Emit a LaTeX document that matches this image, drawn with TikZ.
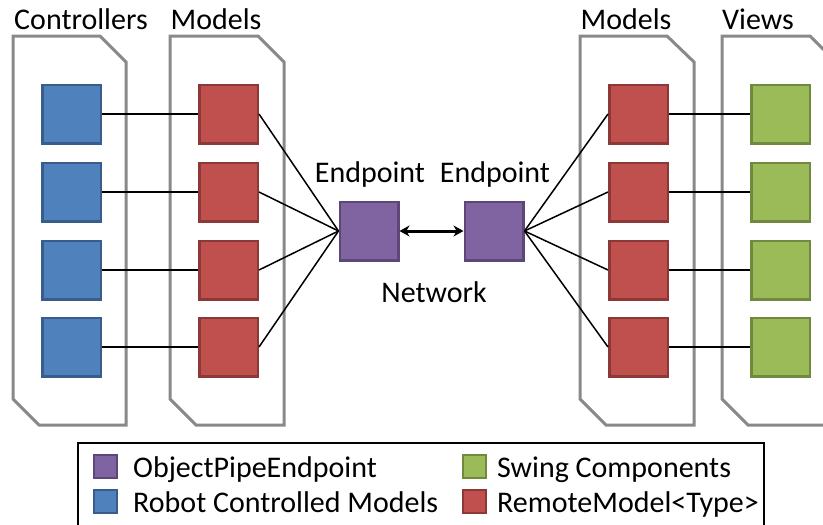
\documentclass[tikz,border=0pt]{standalone}
\usepackage{fontspec}
\setmainfont{Carlito}
\usetikzlibrary{arrows.meta}
\definecolor{bluef}{HTML}{4F81BD}\definecolor{bluel}{HTML}{385D8A}
\definecolor{redf}{HTML}{C0504D}\definecolor{redl}{HTML}{8C3836}
\definecolor{greenf}{HTML}{9BBB59}\definecolor{greenl}{HTML}{71893F}
\definecolor{purf}{HTML}{8064A2}\definecolor{purl}{HTML}{5C4776}
\definecolor{contl}{HTML}{898989}
\begin{document}
\begin{tikzpicture}[x=1pt,y=-1pt,
  txt/.style={font=\fontsize{30pt}{36pt}\selectfont, inner sep=0pt},
  sq/.style={rectangle, inner sep=0pt, minimum size=58.5pt, line width=2.5pt},
  bsq/.style={sq, fill=bluef, draw=bluel},
  rsq/.style={sq, fill=redf, draw=redl},
  gsq/.style={sq, fill=greenf, draw=greenl},
  psq/.style={sq, fill=purf, draw=purl},
  lsq/.style={rectangle, inner sep=0pt, minimum size=23pt, line width=2pt},
  container/.style={draw=contl, line width=3pt, line join=miter},
  link/.style={draw=black, line width=1.5pt},
  netarrow/.style={draw=black, line width=3pt, {Stealth[length=10pt,width=11pt]}-{Stealth[length=10pt,width=11pt]}}
]
\useasboundingbox (0,0) rectangle (823,525);
\clip (0,0) rectangle (823,525);
\fill[white] (0,0) rectangle (823,525);

% containers
\draw[container] (13,36) -- (100,36) -- (126,62) -- (126,425) -- (39,425) -- (13,399) -- cycle;
\draw[container] (170,36) -- (258,36) -- (284,62) -- (284,425) -- (196,425) -- (170,399) -- cycle;
\draw[container] (580,36) -- (667,36) -- (694,62) -- (694,425) -- (606,425) -- (580,399) -- cycle;
\draw[container] (722,36) -- (810,36) -- (836,62) -- (836,425) -- (748,425) -- (722,399) -- cycle;

% headers
\node[txt, anchor=base] (hctrl) at (81,29) {Controllers};
\node[txt, anchor=base] (hml) at (216,29) {Models};
\node[txt, anchor=base] (hmr) at (626,29) {Models};
\node[txt, anchor=base] (hviews) at (758,29) {Views};

% squares
\foreach \i/\y in {1/114,2/192,3/270,4/347}{
  \node[bsq] (b\i) at (71.5,\y) {};
  \node[rsq] (rl\i) at (228.5,\y) {};
  \node[rsq] (rr\i) at (638.5,\y) {};
  \node[gsq] (g\i) at (780.5,\y) {};
}
\node[psq] (pl) at (369,231) {};
\node[psq] (pr) at (494,231) {};

\node[txt, anchor=base] (epl) at (370,182) {Endpoint};
\node[txt, anchor=base] (epr) at (495,182) {Endpoint};
\node[txt, anchor=base] (net) at (434,302) {Network};

% links
\foreach \i in {1,2,3,4}{
  \draw[link] (b\i.east) -- (rl\i.west);
  \draw[link] (rl\i.east) -- (pl.west);
  \draw[link] (rr\i.west) -- (pr.east);
  \draw[link] (rr\i.east) -- (g\i.west);
}
\draw[netarrow] (pl.east) -- (pr.west);

% legend
\draw[black, line width=2pt] (78,443) rectangle (764,540);
\node[lsq, fill=purf, draw=purl] (lp) at (105.5,466.5) {};
\node[lsq, fill=bluef, draw=bluel] (lb) at (105.5,501.5) {};
\node[lsq, fill=greenf, draw=greenl] (lg) at (474.5,466.5) {};
\node[lsq, fill=redf, draw=redl] (lr) at (474.5,501.5) {};
\node[txt, anchor=base west] (tp) at (133,477) {ObjectPipeEndpoint};
\node[txt, anchor=base west] (tb) at (133,512) {Robot Controlled Models};
\node[txt, anchor=base west] (tg) at (497,477) {Swing Components};
\node[txt, anchor=base west] (tr) at (497,512) {RemoteModel<Type>};
\end{tikzpicture}
\end{document}
